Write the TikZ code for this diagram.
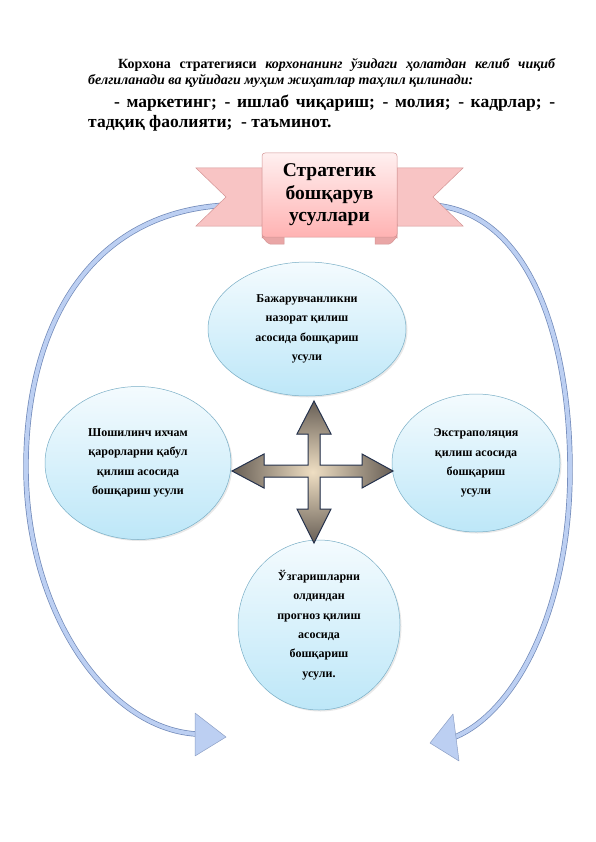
\documentclass[tikz,border=0pt]{standalone}
\usepackage{fontspec}
\setmainfont{Liberation Serif}
\usetikzlibrary{positioning,calc,shapes.geometric,shadows}

\definecolor{pinkfill}{HTML}{F8C4C4}
\definecolor{pinkedge}{HTML}{D49494}
\definecolor{pinkdark}{HTML}{E9A6A6}
\definecolor{bandedge}{HTML}{7088B8}
\definecolor{bandfill}{HTML}{BCCFF2}
\definecolor{methtop}{HTML}{F4FBFE}
\definecolor{methbot}{HTML}{BDE7F8}
\definecolor{methedge}{HTML}{78AEC6}
\definecolor{crossedge}{HTML}{27344F}

\begin{document}
\begin{tikzpicture}[
      x=1pt,y=-1pt,
      every node/.style={font=\bfseries},
      meth/.style={ellipse,draw=methedge,line width=0.5pt,top color=methtop,
        bottom color=methbot,inner sep=0pt,align=center,
        font=\fontsize{12}{19.3}\selectfont\bfseries,
        drop shadow={opacity=0.18,shadow xshift=1.5pt,shadow yshift=-1.5pt}},
      rib/.style={fill=pinkfill,draw=pinkedge,line width=0.5pt},
      fold/.style={fill=pinkdark,draw=pinkedge,line width=0.5pt},
      band/.style={draw=bandedge,double=bandfill,double distance=4pt,line width=0.7pt},
      tip/.style={fill=bandfill,draw=bandedge!80,line width=0.5pt,line join=round}
    ]
    \fill[white] (0,0) rectangle (596,842);
    \useasboundingbox (0,0) rectangle (596,842);
    % text above
    \node[anchor=north west,text width=467pt,align=justify,inner sep=0pt,
      font=\fontsize{14}{16}\selectfont\bfseries] (intro) at (88,58)
      {\hspace*{30pt}Корхона стратегияси \textit{корхонанинг ўзидаги ҳолатдан келиб чиқиб\linebreak
       белгиланади ва қуйидаги муҳим жиҳатлар таҳлил қилинади:}};
    \node[below right=7pt and 0pt of intro.south west,text width=467pt,align=justify,inner sep=0pt,
      font=\fontsize{17.5}{20.5}\selectfont\bfseries] (areas)
      {\hspace*{26pt}- маркетинг; - ишлаб чиқариш; - молия; - кадрлар; -\linebreak
       тадқиқ фаолияти;\ \ - таъминот.};
    % side arcs (behind the ribbon)
    \coordinate (lstart) at (228,205); \coordinate (lend) at (196,734);
    \coordinate (rstart) at (432,205); \coordinate (rend) at (455,737);
    \draw[band] (lstart) .. controls (80,212) and (25,340) .. (26,470)
      .. controls (27,610) and (105,728) .. (lend);
    \draw[band] (rstart) .. controls (530,212) and (570,340) .. (570,470)
      .. controls (570,610) and (515,712) .. (rend);
    \filldraw[tip] ($(lend)+(-1,-21)$) -- ($(lend)+(30,3)$) -- ($(lend)+(-1,22)$) -- cycle;
    \filldraw[tip] ($(rend)+(-2,-23)$) -- ($(rend)+(-25,6)$) -- ($(rend)+(4,24)$) -- cycle;
    % ribbon
    \filldraw[rib] (262,168) -- (196,168) -- (226,197) -- (196,226) -- (262,226) -- cycle;
    \filldraw[rib] (397,168) -- (463,168) -- (433,197) -- (463,226) -- (397,226) -- cycle;
    \filldraw[fold] (262,224) -- (262,238) to[out=90,in=180] (270,244) -- (284,244) -- (284,224) -- cycle;
    \filldraw[fold] (397,224) -- (397,238) to[out=90,in=0] (389,244) -- (375,244) -- (375,224) -- cycle;
    \node[draw=pinkedge,line width=0.5pt,rounded corners=3pt,top color=red!6,bottom color=red!30,
      minimum width=135pt,minimum height=84pt,align=center,
      font=\fontsize{19.5}{22.5}\selectfont\bfseries] (title) at (329.5,195)
      {Стратегик\\бошқарув\\усуллари};
    % methods
    \node[meth,minimum width=198pt,minimum height=134pt] (ctrl) at (307,329)
      {Бажарувчанликни\\назорат қилиш\\асосида бошқариш\\усули};
    \node[meth,minimum width=186pt,minimum height=153pt] (fast) at (138,463)
      {Шошилинч ихчам\\қарорларни қабул\\қилиш асосида\\бошқариш усули};
    \node[meth,minimum width=168pt,minimum height=138pt] (extr) at (476,463)
      {Экстраполяция\\қилиш асосида\\бошқариш\\усули};
    \node[meth,minimum width=162pt,minimum height=170pt] (fcst) at (319,625)
      {Ўзгаришларни\\олдиндан\\прогноз қилиш\\асосида\\бошқариш\\усули.};
    % four-way arrow
    \coordinate (hub) at (314,471);
    \begin{scope}[shift={(hub)}]
      \filldraw[draw=crossedge,line width=1pt,line join=miter,
        inner color=yellow!15!brown!30,outer color=black!80!brown!70]
        (0,-70) -- (17,-37) -- (6,-37) -- (6,-6) -- (48,-6) -- (48,-17) -- (79,0)
        -- (48,17) -- (48,6) -- (6,6) -- (6,38) -- (17,38) -- (0,72) -- (-17,38)
        -- (-6,38) -- (-6,6) -- (-50,6) -- (-50,17) -- (-82,0) -- (-50,-17)
        -- (-50,-6) -- (-6,-6) -- (-6,-37) -- (-17,-37) -- cycle;
    \end{scope}
  \end{tikzpicture}
\end{document}
